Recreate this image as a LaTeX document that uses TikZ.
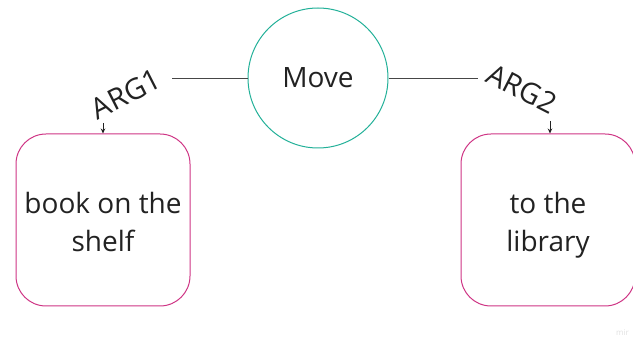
\documentclass[tikz,border=0pt]{standalone}
\usepackage{fontspec}
\setmainfont{Open Sans}
\usetikzlibrary{arrows.meta}
\definecolor{teal1}{RGB}{34,176,152}
\definecolor{rose1}{RGB}{206,52,132}
\definecolor{ink}{RGB}{34,34,34}
\definecolor{wire}{RGB}{70,70,70}
\tikzset{
  concept/.style={circle, draw=teal1, line width=1pt, minimum size=140pt, inner sep=0pt,
    text=ink, font=\fontsize{28}{32}\selectfont},
  argbox/.style={draw=rose1, line width=1pt, rounded corners=30pt, minimum width=174pt,
    minimum height=172pt, inner sep=0pt},
  boxtext/.style={text=ink, align=center, font=\fontsize{28}{38}\selectfont, inner sep=0pt},
  rolelabel/.style={text=ink, inner sep=0pt, font=\fontsize{29}{32}\selectfont},
  link/.style={draw=wire, line width=0.8pt},
  pointer/.style={draw=ink, line width=0.7pt, -{Stealth[length=5pt,width=4.5pt]}}
}
\begin{document}
\begin{tikzpicture}[x=1pt, y=-1pt]
  \useasboundingbox (0,0) rectangle (633,352);
  \clip (0,0) rectangle (633,352);

  % predicate
  \node[concept] (move) at (318,78) {Move};

  % argument boxes and their texts
  \node[argbox] (box1) at (103,220) {};
  \node[argbox] (box2) at (548,220) {};
  \node[boxtext] (t1) at (103,222) {book on the\\shelf};
  \node[boxtext] (t2) at (548,225) {to the\\library};

  % role labels
  \node[rolelabel, rotate=27] (arg1) at (126,94) {ARG1};
  \node[rolelabel, rotate=-27] (arg2) at (522,89) {ARG2};

  % connector ends next to the labels
  \coordinate (l1) at (172,78);
  \coordinate (l2) at (478,78);
  \coordinate (p1) at (103,123);
  \coordinate (p2) at (550,121);

  \draw[link] (move.west) -- (l1);
  \draw[link] (move.east) -- (l2);
  \draw[pointer] (p1) -- (p1 |- box1.north);
  \draw[pointer] (p2) -- (p2 |- box2.north);

  % faint board mark
  \node[text=black!12, inner sep=0pt, font=\fontsize{8}{10}\selectfont, anchor=west] (mark) at (616,333) {mir};
\end{tikzpicture}
\end{document}
